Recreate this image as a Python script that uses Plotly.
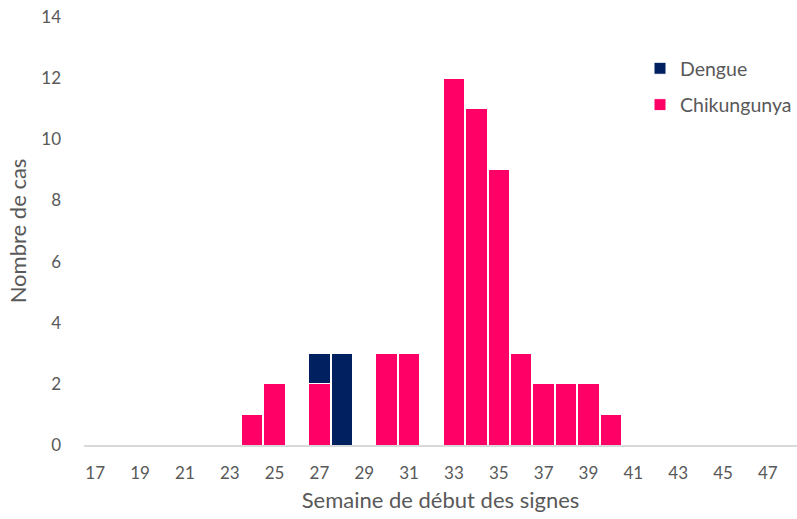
import plotly.graph_objects as go

# Weeks of symptom onset (categories)
weeks = list(range(17, 48))
# Cases per week
chikungunya = {24: 1, 25: 2, 27: 2, 30: 3, 31: 3, 33: 12, 34: 11, 35: 9,
               36: 3, 37: 2, 38: 2, 39: 2, 40: 1}
dengue = {27: 1, 28: 3}

chik_vals = [chikungunya.get(w, 0) for w in weeks]
deng_vals = [dengue.get(w, 0) for w in weeks]
tick_weeks = [w for w in weeks if w % 2 == 1]
tick_labels = [str(w) for w in tick_weeks]

FONT = "Lato, Calibri, Carlito, sans-serif"
GREY = "#595959"
tick_font = dict(family=FONT, size=17, color=GREY)

fig = go.Figure()
fig.add_trace(go.Bar(
    x=weeks, y=chik_vals, name="Chikungunya",
    marker=dict(color="#FF0066", line=dict(color="white", width=1)),
    legendgroup="c", legendrank=2,
))
fig.add_trace(go.Bar(
    x=weeks, y=deng_vals, name="Dengue",
    marker=dict(color="#002060", line=dict(color="white", width=1)),
    legendgroup="d", legendrank=1,
))

fig.update_layout(
    barmode="stack",
    bargap=0.04,
    width=797, height=519,
    margin=dict(l=84, r=0, t=17, b=74),
    plot_bgcolor="white", paper_bgcolor="white",
    font=dict(family=FONT, size=18, color=GREY),
    legend=dict(
        x=0.78, y=0.925, xanchor="left", yanchor="top",
        traceorder="grouped", tracegroupgap=8,
        font=dict(family=FONT, size=19.5, color=GREY),
        itemwidth=30,
    ),
    xaxis=dict(
        type="linear",
        range=[16.5, 48.3],
        tickmode="array",
        tickvals=tick_weeks,
        ticktext=tick_labels,
        showline=True, linecolor="#D9D9D9", linewidth=1.5,
        ticks="", showgrid=False, zeroline=False,
        ticklabelstandoff=12,
        title=dict(text="Semaine de début des signes", standoff=10),
        tickfont=tick_font,
    ),
    yaxis=dict(
        range=[0, 14], dtick=2,
        showline=False, showgrid=False, zeroline=False,
        ticks="", ticklabelstandoff=22,
        title=dict(text="Nombre de cas", standoff=8),
        tickfont=tick_font,
    ),
)

fig.write_html("out.html")
